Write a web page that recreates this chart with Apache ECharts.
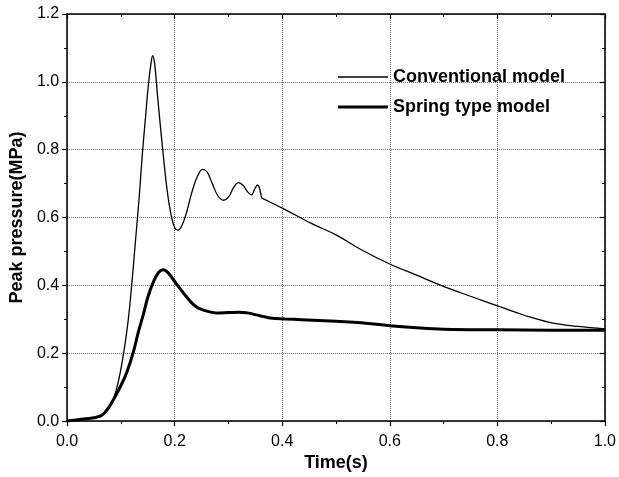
<!DOCTYPE html>
<html>
<head>
<meta charset="utf-8">
<script src="https://cdn.jsdelivr.net/npm/echarts@6/dist/echarts.min.js"></script>
<style>html,body{margin:0;padding:0;background:#fff}#c{width:619px;height:477px}</style>
</head>
<body>
<div id="c"></div>
<script>
var convX = [0,0.03,0.062,0.075,0.087,0.097,0.105,0.113,0.120,0.127,0.134,0.140,0.146,0.151,0.156,0.159,0.163,0.168,0.174,0.179,0.186,0.193,0.200,0.206,0.213,0.222,0.232,0.242,0.252,0.260,0.270,0.280,0.291,0.300,0.310,0.319,0.327,0.336,0.343,0.349,0.354,0.358,0.362,0.365,0.40,0.455,0.50,0.547,0.60,0.65,0.694,0.75,0.803,0.85,0.897,0.95,1.0];
var convY = [0,0.006,0.015,0.035,0.07,0.13,0.2,0.29,0.40,0.53,0.66,0.79,0.90,0.99,1.055,1.077,1.05,0.96,0.86,0.78,0.68,0.61,0.57,0.563,0.575,0.615,0.675,0.72,0.742,0.735,0.70,0.665,0.651,0.66,0.69,0.703,0.695,0.675,0.667,0.685,0.696,0.685,0.658,0.655,0.628,0.582,0.549,0.505,0.463,0.43,0.401,0.368,0.338,0.312,0.291,0.279,0.272];
var springX = [0,0.03,0.062,0.075,0.087,0.100,0.111,0.123,0.132,0.142,0.150,0.160,0.170,0.179,0.188,0.196,0.203,0.215,0.228,0.240,0.252,0.265,0.277,0.300,0.320,0.335,0.344,0.36,0.381,0.406,0.436,0.50,0.547,0.60,0.65,0.70,0.80,0.90,1.0];
var springY = [0,0.006,0.015,0.035,0.066,0.105,0.144,0.203,0.26,0.316,0.365,0.409,0.438,0.446,0.437,0.42,0.405,0.38,0.355,0.337,0.328,0.322,0.319,0.320,0.321,0.319,0.316,0.31,0.303,0.301,0.299,0.294,0.290,0.281,0.275,0.271,0.269,0.268,0.268];
var seriesNames = ['Conventional model','Spring type model'];
var xTitle = 'Time(s)';
var yTitle = 'Peak pressure(MPa)';

function pairs(xs, ys){ return xs.map(function(x,i){return [x, ys[i]];}); }

var font = 'Liberation Sans, Arial, sans-serif';
var axisCommon = {
  axisLine:{show:true, onZero:false, lineStyle:{color:'#000', width:1.5}},
  axisTick:{show:true, length:5, lineStyle:{color:'#000', width:1.2}},
  minorTick:{show:true, splitNumber:2, length:3, lineStyle:{color:'#000', width:1}}
};
var chart = echarts.init(document.getElementById('c'));
chart.setOption({
  backgroundColor:'#fff',
  animation:false,
  grid:{left:63, right:13, top:14, bottom:55},
  legend:{
    orient:'vertical', left:333, top:63, itemWidth:50, itemHeight:18, itemGap:12,
    textStyle:{fontFamily:font, fontWeight:'bold', fontSize:18, color:'#000'},
    data:[
      {name:seriesNames[0], icon:'path://M0,0H50V1.4H0Z', itemStyle:{color:'#000'}},
      {name:seriesNames[1], icon:'path://M0,0H50V3H0Z', itemStyle:{color:'#000'}}
    ]
  },
  xAxis:[
    Object.assign({type:'value', min:0, max:1, interval:0.2, position:'bottom',
      name:xTitle, nameLocation:'middle', nameGap:30,
      nameTextStyle:{fontFamily:font, fontWeight:'bold', fontSize:18, color:'#000'},
      axisLabel:{fontFamily:font, fontSize:16, color:'#000', margin:12, formatter:function(v){return v.toFixed(1);}},
      splitLine:{show:true, lineStyle:{type:'dotted', color:'#666', width:1}}
    }, axisCommon),
    Object.assign({}, axisCommon, {type:'value', min:0, max:1, interval:0.2, position:'top',
      axisLabel:{show:false}, splitLine:{show:false},
      axisTick:{show:true, inside:true, length:5, lineStyle:{color:'#000', width:1.2}},
      minorTick:{show:true, splitNumber:2, length:3, lineStyle:{color:'#000', width:1}}
    })
  ],
  yAxis:[
    Object.assign({type:'value', min:0, max:1.2, interval:0.2, position:'left',
      name:yTitle, nameLocation:'middle', nameGap:40, nameRotate:90,
      nameTextStyle:{fontFamily:font, fontWeight:'bold', fontSize:18, color:'#000'},
      axisLabel:{fontFamily:font, fontSize:16, color:'#000', margin:8, formatter:function(v){return v.toFixed(1);}},
      splitLine:{show:true, lineStyle:{type:'dotted', color:'#666', width:1}}
    }, axisCommon),
    Object.assign({}, axisCommon, {type:'value', min:0, max:1.2, interval:0.2, position:'right',
      axisLabel:{show:false}, splitLine:{show:false},
      axisTick:{show:true, inside:true, length:5, lineStyle:{color:'#000', width:1.2}},
      minorTick:{show:true, splitNumber:2, length:3, lineStyle:{color:'#000', width:1}}
    })
  ],
  series:[
    {name:seriesNames[0], type:'line', xAxisIndex:0, yAxisIndex:0, data:pairs(convX, convY),
     showSymbol:false, symbol:'none', smooth:0.4,
     lineStyle:{color:'#000', width:1.3}, itemStyle:{color:'#000'}},
    {name:seriesNames[1], type:'line', xAxisIndex:0, yAxisIndex:0, data:pairs(springX, springY),
     showSymbol:false, symbol:'none', smooth:0.4,
     lineStyle:{color:'#000', width:3}, itemStyle:{color:'#000'}}
  ]
});
</script>
</body>
</html>
